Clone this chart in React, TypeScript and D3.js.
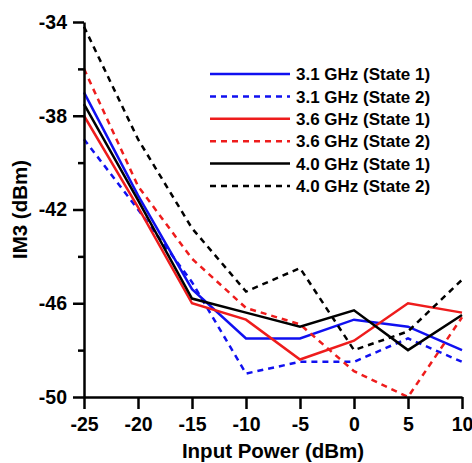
import React, { useRef, useEffect } from 'react';
import { select, scaleLinear, axisLeft, axisBottom, line } from 'd3';

// input power (dBm)
const power = [-25, -20, -15, -10, -5, 0, 5, 10];

// IM3 (dBm) per frequency / state
const im3_31_s1 = [-37.0, -41.4, -45.4, -47.5, -47.5, -46.7, -47.0, -48.0];
const im3_31_s2 = [-39.0, -42.0, -45.1, -49.0, -48.5, -48.5, -47.5, -48.5];
const im3_36_s1 = [-38.0, -41.9, -46.0, -46.7, -48.4, -47.6, -46.0, -46.4];
const im3_36_s2 = [-36.0, -41.0, -44.1, -46.2, -46.9, -48.9, -50.0, -46.6];
const im3_40_s1 = [-37.5, -41.6, -45.8, -46.4, -47.0, -46.3, -48.0, -46.5];
const im3_40_s2 = [-34.2, -39.0, -42.8, -45.5, -44.5, -48.0, -47.2, -45.0];

const labels = [
  '3.1 GHz (State 1)',
  '3.1 GHz (State 2)',
  '3.6 GHz (State 1)',
  '3.6 GHz (State 2)',
  '4.0 GHz (State 1)',
  '4.0 GHz (State 2)',
];

const xTicks = [-25, -20, -15, -10, -5, 0, 5, 10];
const yTicks = [-50, -46, -42, -38, -34];
const yMinor = [-48, -44, -40, -36];

const series = [
  { name: labels[0], values: im3_31_s1, color: '#1010f0', dashed: false },
  { name: labels[1], values: im3_31_s2, color: '#1010f0', dashed: true },
  { name: labels[2], values: im3_36_s1, color: '#ee1c1c', dashed: false },
  { name: labels[3], values: im3_36_s2, color: '#ee1c1c', dashed: true },
  { name: labels[4], values: im3_40_s1, color: '#000000', dashed: false },
  { name: labels[5], values: im3_40_s2, color: '#000000', dashed: true },
];

const W = 472;
const H = 463;
const margin = { left: 84, right: 10, top: 22, bottom: 66 };
const FONT = 'Arial, "Liberation Sans", sans-serif';
const fmt = (d: any) => String(d); // plain hyphen, not unicode minus

function App() {
  const xAxisRef = useRef<SVGGElement>(null);
  const yAxisRef = useRef<SVGGElement>(null);
  const yMinorRef = useRef<SVGGElement>(null);

  const x = scaleLinear().domain([-25, 10]).range([margin.left, W - margin.right]);
  const y = scaleLinear().domain([-50, -34]).range([H - margin.bottom, margin.top]);

  const lineGen = line<number>()
    .x((d, i) => x(power[i]))
    .y(d => y(d));

  useEffect(() => {
    const xAxis = axisBottom(x).tickValues(xTicks).tickFormat(fmt).tickSize(12).tickSizeOuter(0).tickPadding(8);
    const gx = select(xAxisRef.current).call(xAxis as any);
    gx.select('.domain').attr('stroke-width', 2.5);
    gx.selectAll('.tick line').attr('stroke-width', 2.5);
    gx.selectAll('.tick text')
      .attr('font-size', 19.5)
      .attr('font-weight', 'bold')
      .attr('font-family', FONT)
      .attr('fill', '#000');

    const yAxis = axisLeft(y).tickValues(yTicks).tickFormat(fmt).tickSize(11).tickSizeOuter(0).tickPadding(6);
    const gy = select(yAxisRef.current).call(yAxis as any);
    gy.select('.domain').attr('stroke-width', 2.5);
    gy.selectAll('.tick line').attr('stroke-width', 2.5);
    gy.selectAll('.tick text')
      .attr('font-size', 19.5)
      .attr('font-weight', 'bold')
      .attr('font-family', FONT)
      .attr('fill', '#000');

    const minor = axisLeft(y).tickValues(yMinor).tickSize(6).tickSizeOuter(0).tickFormat(() => '');
    const gm = select(yMinorRef.current).call(minor as any);
    gm.select('.domain').remove();
    gm.selectAll('.tick line').attr('stroke-width', 2.5);
  }, []);

  const legendX = 210;
  const legendY = 74;
  const legendStep = 22.4;

  return (
    <svg width={W} height={H} style={{ position: 'absolute', left: 0, top: 0, background: '#fff' }}>
      {series.map(s => (
        <path
          key={s.name}
          d={lineGen(s.values) || ''}
          fill="none"
          stroke={s.color}
          strokeWidth={2.5}
          strokeDasharray={s.dashed ? '6,5' : undefined}
        />
      ))}

      <g ref={yMinorRef} transform={`translate(${margin.left},0)`} />
      <g ref={yAxisRef} transform={`translate(${margin.left},0)`} />
      <g ref={xAxisRef} transform={`translate(0,${H - margin.bottom})`} />

      <text
        x={(margin.left + W - margin.right) / 2}
        y={458}
        textAnchor="middle"
        fontFamily={FONT}
        fontWeight="bold"
        fontSize={20.5}
      >
        Input Power (dBm)
      </text>
      <text
        transform={`translate(27,${(margin.top + H - margin.bottom) / 2}) rotate(-90)`}
        textAnchor="middle"
        fontFamily={FONT}
        fontWeight="bold"
        fontSize={20.5}
      >
        IM3 (dBm)
      </text>

      {series.map((s, i) => (
        <g key={'lg' + s.name} transform={`translate(${legendX},${legendY + i * legendStep})`}>
          <line
            x1={0}
            x2={80}
            y1={0}
            y2={0}
            stroke={s.color}
            strokeWidth={2.5}
            strokeDasharray={s.dashed ? '6,5' : undefined}
          />
          <text x={86} dy="0.36em" fontFamily={FONT} fontWeight="bold" fontSize={17}>
            {s.name}
          </text>
        </g>
      ))}
    </svg>
  );
}

export default App;
